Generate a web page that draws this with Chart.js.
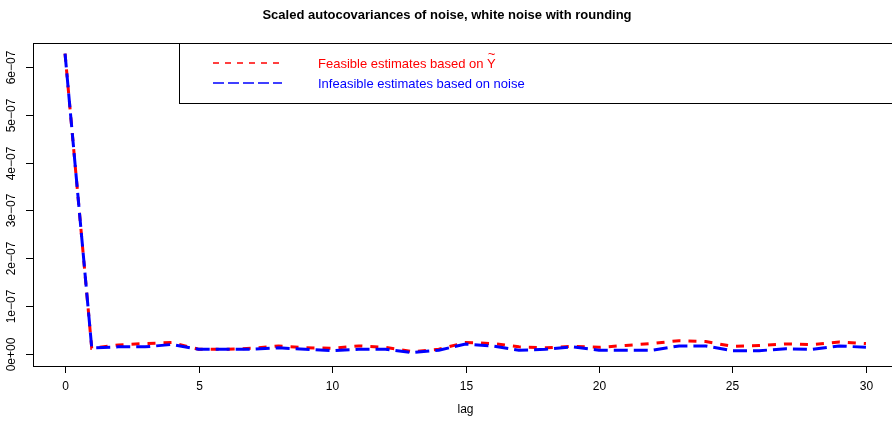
<!DOCTYPE html>
<html>
<head>
<meta charset="utf-8">
<script src="https://cdn.jsdelivr.net/npm/chart.js@4.4.1/dist/chart.umd.min.js"></script>
<style>
    html, body { margin: 0; padding: 0; background: #fff; overflow: hidden; }
    #wrap { width: 906px; height: 424px; }
</style>
</head>
<body>
<div id="wrap"><canvas id="acfChart" width="906" height="424"></canvas></div>
<script>
// lags on the x axis
const lags = [0, 1, 2, 3, 4, 5, 6, 7, 8, 9, 10, 11, 12, 13, 14, 15, 16, 17, 18, 19, 20, 21, 22, 23, 24, 25, 26, 27, 28, 29, 30];

// scaled autocovariances, in units of 1e-07
const feasible = [6.28, 0.12, 0.19, 0.22, 0.24, 0.10, 0.10, 0.12, 0.17, 0.13, 0.12, 0.17, 0.14, 0.05, 0.10, 0.24, 0.22, 0.15, 0.13, 0.16, 0.14, 0.18, 0.22, 0.28, 0.26, 0.16, 0.18, 0.21, 0.20, 0.25, 0.22];
const infeasible = [6.28, 0.13, 0.15, 0.15, 0.20, 0.10, 0.10, 0.10, 0.13, 0.10, 0.07, 0.10, 0.10, 0.03, 0.08, 0.21, 0.17, 0.08, 0.10, 0.15, 0.08, 0.08, 0.08, 0.17, 0.17, 0.07, 0.07, 0.11, 0.10, 0.17, 0.14];

const xTicks = [0, 5, 10, 15, 20, 25, 30];
const yTicks = [0, 1e-7, 2e-7, 3e-7, 4e-7, 5e-7, 6e-7];
const yTickLabels = ["0e+00", "1e\u221207", "2e\u221207", "3e\u221207", "4e\u221207", "5e\u221207", "6e\u221207"];

const titleText = "Scaled autocovariances of noise, white noise with rounding";
const legendLabels = ["Feasible estimates based on Y", "Infeasible estimates based on noise"];
const FONT = '"Liberation Sans", Arial, Helvetica, sans-serif';

function toPoints(values) {
    return lags.map((lag, i) => ({ x: lag, y: values[i] * 1e-7 }));
}

// draws the R style box, axes, title and legend
const rStylePlugin = {
    id: 'rStyle',
    afterDraw(chart) {
        const ctx = chart.ctx;
        const area = chart.chartArea;
        const xs = chart.scales.x;
        const ys = chart.scales.y;
        ctx.save();

        // plot box
        ctx.strokeStyle = '#000';
        ctx.lineWidth = 1;
        ctx.strokeRect(area.left + 0.5, area.top + 0.5, area.right - area.left, area.bottom - area.top);

        // x axis ticks and labels
        ctx.fillStyle = '#000';
        ctx.font = '12px ' + FONT;
        ctx.textAlign = 'center';
        ctx.textBaseline = 'middle';
        xTicks.forEach(t => {
            const px = Math.round(xs.getPixelForValue(t)) + 0.5;
            ctx.beginPath();
            ctx.moveTo(px, area.bottom);
            ctx.lineTo(px, area.bottom + 7);
            ctx.stroke();
            ctx.fillText(String(t), px, area.bottom + 21);
        });
        ctx.fillText('lag', xs.getPixelForValue(15), area.bottom + 44);

        // y axis ticks and rotated labels
        yTicks.forEach((t, i) => {
            const py = Math.round(ys.getPixelForValue(t)) + 0.5;
            ctx.beginPath();
            ctx.moveTo(area.left, py);
            ctx.lineTo(area.left - 7, py);
            ctx.stroke();
            ctx.save();
            ctx.translate(12, py);
            ctx.rotate(-Math.PI / 2);
            ctx.fillText(yTickLabels[i], 0, 0);
            ctx.restore();
        });

        // title
        ctx.font = 'bold 13px ' + FONT;
        ctx.fillText(titleText, 447, 15);

        // legend box
        ctx.lineWidth = 1;
        ctx.strokeRect(179.5, area.top + 0.5, 800, 60);
        ctx.font = '13px ' + FONT;
        ctx.textAlign = 'left';
        const rows = [
            { color: '#FF0000', dash: [6, 6], y: 63 },
            { color: '#0000FF', dash: [11, 4], y: 83 }
        ];
        rows.forEach((r, i) => {
            ctx.strokeStyle = r.color;
            ctx.lineWidth = 1.5;
            ctx.setLineDash(r.dash);
            ctx.beginPath();
            ctx.moveTo(213, r.y);
            ctx.lineTo(282, r.y);
            ctx.stroke();
            ctx.setLineDash([]);
            ctx.fillStyle = r.color;
            ctx.fillText(legendLabels[i], 318, r.y + 1);
            if (i === 0) {
                // tilde over the Y
                const w = ctx.measureText(legendLabels[i]).width;
                const yw = ctx.measureText('Y').width;
                ctx.fillText('~', 318 + w - yw / 2 - ctx.measureText('~').width / 2, r.y - 9);
            }
        });

        ctx.restore();
    }
};

const ctx = document.getElementById('acfChart').getContext('2d');
new Chart(ctx, {
    type: 'line',
    data: {
        datasets: [
            {
                label: 'Infeasible estimates based on noise',
                data: toPoints(infeasible),
                borderColor: '#0000FF',
                borderWidth: 3,
                borderDash: [14, 6],
                pointRadius: 0,
                fill: false,
                tension: 0
            },
            {
                label: 'Feasible estimates based on Y',
                data: toPoints(feasible),
                borderColor: '#FF0000',
                borderWidth: 3,
                borderDash: [8, 8],
                pointRadius: 0,
                fill: false,
                tension: 0
            }
        ]
    },
    options: {
        responsive: false,
        animation: false,
        layout: { padding: { left: 33, top: 43, right: 8, bottom: 58 } },
        plugins: {
            legend: { display: false },
            title: { display: false },
            tooltip: { enabled: false }
        },
        scales: {
            x: { type: 'linear', min: -1.2, max: 31.2, display: false },
            y: { type: 'linear', min: -0.25e-7, max: 6.5e-7, display: false }
        }
    },
    plugins: [rStylePlugin]
});
</script>
</body>
</html>
